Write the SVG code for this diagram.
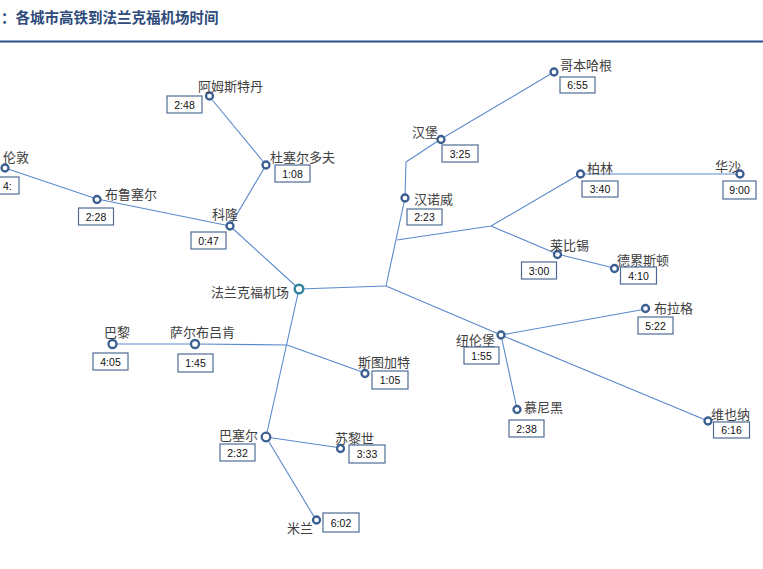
<svg xmlns="http://www.w3.org/2000/svg" width="763" height="569" viewBox="0 0 763 569">
<style>
.title{font-family:"Noto Sans CJK SC","Noto Sans",sans-serif;font-size:14.5px;font-weight:bold;fill:#2E4B7B}
.lbl{font-family:"Noto Sans CJK SC",sans-serif;font-size:13px;fill:#404040}
.box{fill:#fff;stroke:#4F6B95;stroke-width:1.2}
.t{font-family:"Liberation Sans",Arial,sans-serif;font-size:10.5px;fill:#111;text-anchor:middle}
.n{fill:#fff;stroke:#3B5F91;stroke-width:2.3}
.hub{fill:#fff;stroke:#31849B;stroke-width:2.4}
.c{fill:none;stroke:#5B89CC;stroke-width:1.1;stroke-linejoin:round}
</style>
<rect width="763" height="569" fill="#fff"/>
<text class="title" x="1" y="22.5">：各城市高铁到法兰克福机场时间</text>
<line x1="0" y1="41.5" x2="763" y2="41.5" stroke="#2E5089" stroke-width="2"/>
<g id="connectors">
<polyline class="c" points="5,168 97,199 230,226"/>
<polyline class="c" points="209,96 266,165 230,226 299,289"/>
<polyline class="c" points="299,289 386,286"/>
<polyline class="c" points="386,286 405,198 406,162 441,139 554,72"/>
<polyline class="c" points="397,240 491,226 580,174 740,174"/>
<polyline class="c" points="491,226 557,254 614,268"/>
<polyline class="c" points="386,286 501,335 646,309"/>
<polyline class="c" points="501,335 517,409"/>
<polyline class="c" points="501,335 708,421"/>
<polyline class="c" points="299,289 266,437"/>
<polyline class="c" points="287,345 195,344 113,344"/>
<polyline class="c" points="287,345 365,373"/>
<polyline class="c" points="266,437 341,448"/>
<polyline class="c" points="266,437 316,520"/>
</g>
<g id="frankfurt"><circle class="hub" cx="299" cy="289" r="4.3"/><text class="lbl" x="211" y="297">法兰克福机场</text></g>
<g id="london"><circle class="n" cx="5" cy="168" r="3.5"/><text class="lbl" x="3" y="162">伦敦</text><rect class="box" x="-17" y="177" width="36" height="17"/><text class="t" x="3" y="189.5" style="text-anchor:start">4:</text></g>
<g id="brussels"><circle class="n" cx="97" cy="199.5" r="3.5"/><text class="lbl" x="105" y="199">布鲁塞尔</text><rect class="box" x="78.5" y="208" width="35" height="17"/><text class="t" x="96" y="220.5">2:28</text></g>
<g id="cologne"><circle class="n" cx="230" cy="226" r="3.5"/><text class="lbl" x="212" y="219">科隆</text><rect class="box" x="191" y="232" width="35" height="17"/><text class="t" x="208.5" y="244.5">0:47</text></g>
<g id="duesseldorf"><circle class="n" cx="266" cy="165" r="3.5"/><text class="lbl" x="270" y="162">杜塞尔多夫</text><rect class="box" x="275" y="165" width="35" height="17"/><text class="t" x="292.5" y="177.5">1:08</text></g>
<g id="amsterdam"><circle class="n" cx="209.5" cy="96" r="3.5"/><text class="lbl" x="198" y="91">阿姆斯特丹</text><rect class="box" x="167" y="96" width="35" height="17"/><text class="t" x="184.5" y="108.5">2:48</text></g>
<g id="copenhagen"><circle class="n" cx="554" cy="72" r="3.5"/><text class="lbl" x="560" y="70">哥本哈根</text><rect class="box" x="560" y="77" width="35" height="16"/><text class="t" x="577.5" y="89">6:55</text></g>
<g id="hamburg"><circle class="n" cx="441" cy="139.5" r="3.5"/><text class="lbl" x="412" y="137">汉堡</text><rect class="box" x="442" y="145" width="36" height="17"/><text class="t" x="460" y="157.5">3:25</text></g>
<g id="hanover"><circle class="n" cx="405" cy="198" r="3.5"/><text class="lbl" x="414" y="204">汉诺威</text><rect class="box" x="407" y="209" width="35" height="16"/><text class="t" x="424.5" y="221">2:23</text></g>
<g id="berlin"><circle class="n" cx="580.5" cy="174" r="3.5"/><text class="lbl" x="587" y="173">柏林</text><rect class="box" x="582" y="181" width="36" height="16"/><text class="t" x="600" y="193">3:40</text></g>
<g id="warsaw"><circle class="n" cx="740" cy="174" r="3.5"/><text class="lbl" x="715" y="171">华沙</text><rect class="box" x="723" y="181" width="33" height="18"/><text class="t" x="739.5" y="194">9:00</text></g>
<g id="leipzig"><circle class="n" cx="557.5" cy="254.5" r="3.5"/><text class="lbl" x="550" y="250">莱比锡</text><rect class="box" x="521.5" y="262" width="35" height="17"/><text class="t" x="539" y="274.5">3:00</text></g>
<g id="dresden"><circle class="n" cx="614.5" cy="268.5" r="3.5"/><text class="lbl" x="617" y="265">德累斯顿</text><rect class="box" x="620.5" y="267" width="36" height="17"/><text class="t" x="638.5" y="279.5">4:10</text></g>
<g id="prague"><circle class="n" cx="645.5" cy="308.5" r="3.5"/><text class="lbl" x="654" y="313">布拉格</text><rect class="box" x="638" y="317" width="35" height="17"/><text class="t" x="655.5" y="329.5">5:22</text></g>
<g id="nuremberg"><circle class="n" cx="501" cy="335" r="3.5"/><text class="lbl" x="456" y="345">纽伦堡</text><rect class="box" x="464" y="347" width="35" height="17"/><text class="t" x="481.5" y="359.5">1:55</text></g>
<g id="munich"><circle class="n" cx="517" cy="409.5" r="3.5"/><text class="lbl" x="524" y="412">慕尼黑</text><rect class="box" x="509" y="420" width="35" height="17"/><text class="t" x="526.5" y="432.5">2:38</text></g>
<g id="vienna"><circle class="n" cx="708" cy="421" r="3.5"/><text class="lbl" x="711" y="419">维也纳</text><rect class="box" x="713.5" y="422" width="36" height="16"/><text class="t" x="731.5" y="434">6:16</text></g>
<g id="paris"><circle class="n" cx="112.5" cy="344" r="4"/><text class="lbl" x="104" y="337">巴黎</text><rect class="box" x="93" y="353" width="35" height="17"/><text class="t" x="110.5" y="365.5">4:05</text></g>
<g id="saarbruecken"><circle class="n" cx="195" cy="344" r="4"/><text class="lbl" x="170" y="337">萨尔布吕肯</text><rect class="box" x="178" y="354" width="35" height="18"/><text class="t" x="195.5" y="367">1:45</text></g>
<g id="stuttgart"><circle class="n" cx="365" cy="373.5" r="3.5"/><text class="lbl" x="358" y="367">斯图加特</text><rect class="box" x="372" y="371" width="36" height="18"/><text class="t" x="390" y="384">1:05</text></g>
<g id="basel"><circle class="n" cx="266" cy="437" r="4.3"/><text class="lbl" x="219" y="440">巴塞尔</text><rect class="box" x="220" y="444" width="35" height="17"/><text class="t" x="237.5" y="456.5">2:32</text></g>
<g id="zurich"><circle class="n" cx="340.5" cy="448.5" r="3.5"/><text class="lbl" x="335" y="443">苏黎世</text><rect class="box" x="349" y="445" width="36" height="18"/><text class="t" x="367" y="458">3:33</text></g>
<g id="milan"><circle class="n" cx="316.5" cy="520" r="3.5"/><text class="lbl" x="287" y="533">米兰</text><rect class="box" x="323" y="513" width="36" height="19"/><text class="t" x="341" y="526.5">6:02</text></g>
</svg>
